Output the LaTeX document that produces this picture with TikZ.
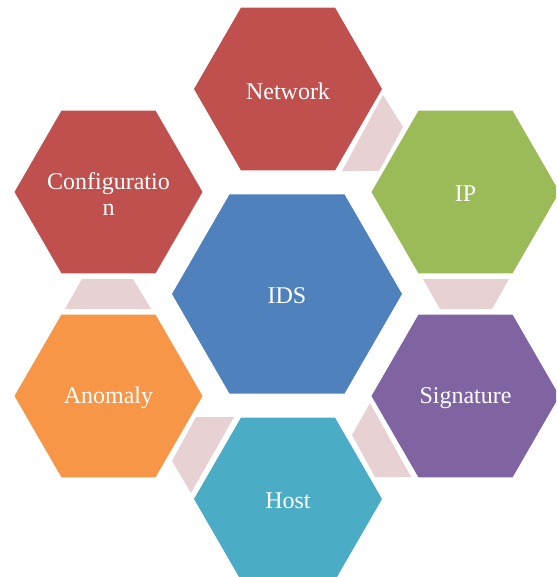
\documentclass[tikz,border=0pt]{standalone}
\usepackage{fontspec}
\setmainfont{Liberation Serif}
\usetikzlibrary{shapes.geometric}
\definecolor{idsblue}{HTML}{4F81BD}
\definecolor{cellred}{HTML}{C0504D}
\definecolor{cellgreen}{HTML}{9BBB59}
\definecolor{cellpurple}{HTML}{8064A2}
\definecolor{cellteal}{HTML}{4BACC6}
\definecolor{cellorange}{HTML}{F79646}
\definecolor{linkpink}{HTML}{E8D1D3}
\begin{document}
\begin{tikzpicture}[x=1pt,y=-1pt,
  hexcell/.style={regular polygon, regular polygon sides=6, minimum size=188pt,
    inner sep=0pt, outer sep=0pt, draw=none},
  bigcell/.style={hexcell, minimum size=230pt},
  celltext/.style={text=white, align=center, inner sep=0pt, yshift=-2pt,
    font=\fontsize{24}{26}\selectfont},
  link/.style={fill=linkpink}]
\useasboundingbox (0,0) rectangle (556,577);
\clip (0,0) rectangle (556,577);

% hexagon cells
\node[bigcell, fill=idsblue] (ids) at (287,294) {};
\node[hexcell, fill=cellred] (network) at (288,89) {};
\node[hexcell, fill=cellred] (config) at (108.5,192) {};
\node[hexcell, fill=cellgreen] (ip) at (465.5,192) {};
\node[hexcell, fill=cellorange] (anomaly) at (108.5,396) {};
\node[hexcell, fill=cellpurple] (signature) at (465.5,396) {};
\node[hexcell, fill=cellteal] (host) at (288,499) {};

% cell captions
\node[celltext] (idslabel) at (ids) {IDS};
\node[celltext] (networklabel) at (network) {Network};
\node[celltext] (configlabel) at (config) {Configuratio\\n};
\node[celltext] (iplabel) at (ip) {IP};
\node[celltext] (anomalylabel) at (anomaly) {Anomaly};
\node[celltext] (signaturelabel) at (signature) {Signature};
\node[celltext] (hostlabel) at (host) {Host};

% joining tiles between neighbouring cells
\fill[link] (342,171) -- (383,95) -- (403,127) -- (379,171) -- cycle;
\fill[link] (82,279) -- (133,279) -- (151,309) -- (65,309) -- cycle;
\fill[link] (423,279) -- (509,279) -- (492,309) -- (440,309) -- cycle;
\fill[link] (196,417) -- (234,417) -- (191,493) -- (172,461) -- cycle;
\fill[link] (370,403) -- (411,477) -- (375,477) -- (352,435) -- cycle;
\end{tikzpicture}
\end{document}
